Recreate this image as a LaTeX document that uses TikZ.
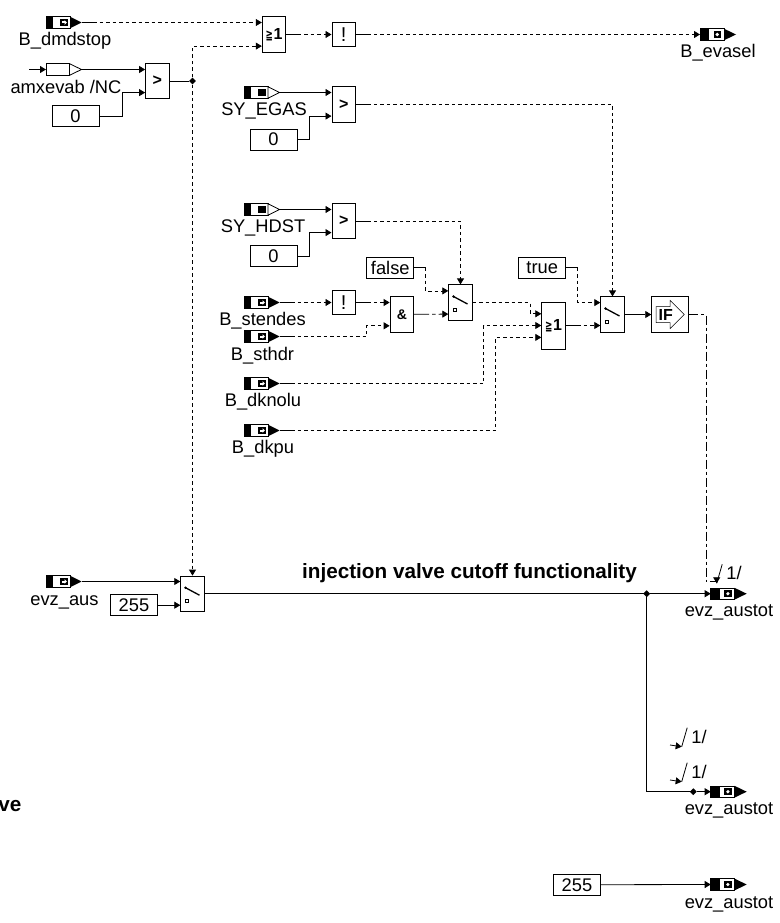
\documentclass[tikz,border=0pt]{standalone}
\usepackage{fontspec}
\setmainfont{Liberation Sans}
\newfontfamily\symfont{DejaVu Sans}
\usepackage{tikz}
\usetikzlibrary{shapes.geometric, arrows.meta}

% long dash run behind a solid stub at the start of a wire
\def\dashfour{on 3.5pt off 3pt on 3.5pt off 3pt on 3.5pt off 3pt on 3.5pt off 3pt}
\edef\dashbits{\dashfour\space\dashfour\space\dashfour\space\dashfour\space\dashfour}
\edef\dashbits{\dashbits\space\dashbits\space\dashbits\space\dashbits}
\newcommand{\orsign}{{\symfont\fontsize{11}{12}\selectfont\scalebox{0.8}[1.25]{≧}}\hspace{0.6pt}{\fontsize{16}{18}\selectfont\bfseries 1}}

\tikzstyle{sigarrow} = [line width=0.8pt, ->, >={Triangle[length=6pt,width=7pt]}]
\tikzstyle{sigline} = [line width=0.8pt]
\tikzstyle{mainwire} = [line width=1.4pt]
\tikzstyle{logicbox} = [rectangle, draw=black, line width=0.9pt, fill=white, minimum width=23.5pt, minimum height=35.3pt, inner sep=0pt, font=\fontsize{16}{18}\selectfont\bfseries]
\tikzstyle{constbox} = [rectangle, draw=black, line width=0.9pt, fill=white, minimum width=47pt, minimum height=21pt, inner sep=0pt, font=\fontsize{18.3}{20}\selectfont]
\tikzstyle{portlabel} = [inner sep=0pt, anchor=base, font=\fontsize{18.3}{20}\selectfont]
\tikzstyle{headline} = [inner sep=0pt, anchor=base, font=\fontsize{20.7}{23}\selectfont\bfseries]
\tikzstyle{joint} = [diamond, fill=black, inner sep=0pt, minimum size=7pt]
\tikzset{
  stubdash/.style/.expanded={dash pattern=on 15pt off 3pt \dashbits},
  plaindash/.style={dash pattern=on 3.5pt off 3pt},
  longdash/.style={dash pattern=on 9pt off 3pt on 3pt off 3pt},
  ifbox/.style={logicbox, minimum width=37pt, minimum height=36.3pt, path picture={
    \draw[line width=0.5pt] ([shift={(-14,-8)}]path picture bounding box.center) -- ++(14,0) -- ++(0,-6)
      -- ++(14,14) -- ++(-14,14) -- ++(0,-6) -- ++(-14,0) -- cycle;
  }},
  portoutline/.style={draw=black, line width=0.8pt, fill=white},
  busin/.pic={
    \draw[portoutline] (0,-5.8) rectangle (24,5.8);
    \fill (0,-5.8) rectangle (6.5,5.8);
    \fill (14,-3.5) rectangle (22,3.5);
    \fill[white] (16,-1) rectangle (18.5,1);
    \fill[white] (18.5,-2.3) -- (21,0) -- (18.5,2.3) -- cycle;
    \fill (24,-5.8) -- (35.5,0) -- (24,5.8) -- cycle;
    \coordinate (-out) at (35.5,0);
  },
  syin/.pic={
    \draw[portoutline] (0,-5.8) rectangle (24,5.8);
    \fill (0,-5.8) rectangle (6.5,5.8);
    \fill (14,-3.5) rectangle (22,3.5);
    \draw[portoutline] (24,-5.8) -- (35.5,0) -- (24,5.8) -- cycle;
    \coordinate (-out) at (35.5,0);
  },
  plainin/.pic={
    \draw[portoutline] (0,-5.8) rectangle (23.5,5.8);
    \draw[portoutline] (23.5,-5.8) -- (35.5,0) -- (23.5,5.8) -- cycle;
    \coordinate (-in) at (0,0);
    \coordinate (-out) at (35.5,0);
  },
  busout/.pic={
    \draw[portoutline] (0,-5.8) rectangle (24,5.8);
    \fill (0,-5.8) rectangle (9,5.8);
    \fill (13.5,-3.5) rectangle (21,3.5);
    \fill[white] (17.2,0) circle (1.8pt);
    \fill (24,-5.8) -- (36,0) -- (24,5.8) -- cycle;
    \coordinate (-in) at (0,0);
  },
  onetag/.pic={
    \draw[sigline] (0,0) -- (5.5,-19);
    \node (-txt) [portlabel, anchor=center] at (17.3,-10) {1/};
    \coordinate (-foot) at (0,0);
  },
}

\begin{document}
\begin{tikzpicture}[x=1pt, y=-1pt, node distance=69.7pt]
  \useasboundingbox (0,0) rectangle (779,923);

  % top row
  \pic (dmdstop) at (46,22.5) {busin};
  \node (dmdstoplbl) [portlabel] at (65,46) {B\_dmdstop};
  \pic (amxevab) at (46,69.5) {plainin};
  \coordinate (amxfree) at (29,69.5);
  \node (amxlbl) [portlabel] at (66,93.5) {amxevab /NC};
  \node (cmpa) [logicbox] at (157.3,81) {>};
  \node (zeroa) [constbox] at (75.5,116) {0};
  \node (jointa) [joint] at (192.5,81) {};
  \node (ortop) [logicbox] at (274,34.5) {\orsign};
  \node (nottop) [logicbox, minimum height=23.3pt, right of=ortop, font=\fontsize{20}{22}\selectfont] {!};
  \pic (evasel) at (700,34.5) {busout};
  \node (evasellbl) [portlabel] at (718,58) {B\_evasel};

  % SY_EGAS
  \pic (egas) at (244,92.5) {syin};
  \node (egaslbl) [portlabel] at (264,116) {SY\_EGAS};
  \node (cmpb) [logicbox] at (343.7,104.5) {>};
  \node (zerob) [constbox] at (273.5,139.6) {0};

  % SY_HDST
  \pic (hdst) at (244,209.5) {syin};
  \node (hdstlbl) [portlabel] at (263,232.7) {SY\_HDST};
  \node (cmpc) [logicbox] at (343.7,221) {>};
  \node (zeroc) [constbox] at (273.5,256) {0};

  % middle logic
  \node (falsebox) [constbox] at (390.3,267.5) {false};
  \pic (stendes) at (244,302.5) {busin};
  \node (stendeslbl) [portlabel] at (262.5,325) {B\_stendes};
  \node (notmid) [logicbox, minimum height=23.3pt, font=\fontsize{20}{22}\selectfont] at (343.7,302.5) {!};
  \pic (sthdr) at (244,336.5) {busin};
  \node (sthdrlbl) [portlabel] at (262.5,360) {B\_sthdr};
  \node (andbox) [logicbox, font=\fontsize{14}{16}\selectfont\bfseries] at (401.8,314.3) {\&};
  \node (swa) [logicbox] at (460.5,302.5) {};
  \pic (dknolu) at (244,383.5) {busin};
  \node (dknolulbl) [portlabel] at (263,406.7) {B\_dknolu};
  \pic (dkpu) at (244,430.5) {busin};
  \node (dkpulbl) [portlabel] at (263,453.5) {B\_dkpu};
  \node (ormid) [logicbox, minimum height=47pt] at (553.5,325.5) {\orsign};
  \node (truebox) [constbox] at (542.2,267.7) {true};
  \node (swb) [logicbox] at (612.5,314.5) {};
  \node (iffun) [ifbox] at (670.2,314.5) {IF\hspace*{9pt}};

  % main path
  \pic (evzaus) at (46,581.5) {busin};
  \node (evzauslbl) [portlabel] at (64.5,605) {evz\_aus};
  \node (maxbox) [constbox] at (134,605.2) {255};
  \node (swc) [logicbox] at (192.5,593.7) {};
  \node (title) [headline] at (469.5,578) {injection valve cutoff functionality};
  \node (jointb) [joint] at (646.7,593.7) {};
  \pic (austota) at (710.7,593.7) {busout};
  \node (austotalbl) [portlabel] at (729,616.7) {evz\_austot};
  \pic (taga) at (716.7,583.3) {onetag};

  % switch contacts
  \foreach \sw in {swa,swb,swc} {
    \fill ([xshift=-7pt,yshift=6pt]\sw.center) circle (1.4pt);
    \draw [line width=1.3pt] ([xshift=-7pt,yshift=6pt]\sw.center) -- ([xshift=7pt,yshift=-1.5pt]\sw.center);
    \draw [line width=0.7pt] ([xshift=-7pt,yshift=-5.5pt]\sw.center) rectangle ([xshift=-4pt,yshift=-8.5pt]\sw.center);
  }

  % lower outputs
  \pic (tagb) at (681.7,746.7) {onetag};
  \coordinate (tagbfree) at (670,745);
  \pic (tagc) at (681.7,781.7) {onetag};
  \coordinate (tagcfree) at (670,780);
  \node (jointc) [joint] at (693.3,791.7) {};
  \pic (austotb) at (710.7,791.7) {busout};
  \node (austotblbl) [portlabel] at (729,814.7) {evz\_austot};
  \node (cutoff) [headline, anchor=base east] at (21.7,811) {ve};
  \node (maxboxb) [constbox] at (577,884.7) {255};
  \pic (austotc) at (710.7,884.5) {busout};
  \node (austotclbl) [portlabel] at (729,908) {evz\_austot};

  % solid wires
  \draw [sigarrow] (amxfree) -- (amxevab-in);
  \draw [sigarrow] (amxevab-out) -- (cmpa.west |- amxevab-out);
  \draw [sigarrow] (zeroa.east) -- ++(23,0) |- ([yshift=-11.6pt]cmpa.west);
  \draw [sigline] (cmpa.east) -- (jointa);
  \draw [sigarrow] (egas-out) -- (cmpb.west |- egas-out);
  \draw [sigarrow] (zerob.east) -- ++(12,0) |- ([yshift=-11.6pt]cmpb.west);
  \draw [sigarrow] (hdst-out) -- (cmpc.west |- hdst-out);
  \draw [sigarrow] (zeroc.east) -- ++(12,0) |- ([yshift=-11.6pt]cmpc.west);
  \draw [sigarrow] (evzaus-out) -- (swc.west |- evzaus-out);
  \draw [sigarrow] (maxbox.east) -- (swc.west |- maxbox.east);
  \draw [sigarrow] (swb.east) -- (iffun.west);
  \draw [mainwire] (swc.east) -- (jointb.center);
  \draw [sigarrow] (jointb) -- (austota-in);
  \draw [mainwire] (jointb.center) |- (jointc.center);
  \draw [sigarrow] (jointc) -- (austotb-in);
  \draw [sigarrow] (maxboxb.east) -- (austotc-in);
  \draw [sigarrow] (tagbfree) -- (tagb-foot);
  \draw [sigarrow] (tagcfree) -- (tagc-foot);

  % dashed wires
  \draw [sigarrow, stubdash] (dmdstop-out) -- (ortop.west |- dmdstop-out);
  \draw [sigarrow, plaindash] (jointa) |- ([yshift=-11.6pt]ortop.west);
  \draw [sigarrow, plaindash] (jointa) -- (swc.north);
  \draw [sigarrow, stubdash] (ortop.east) -- (nottop.west);
  \draw [sigarrow, stubdash] (nottop.east) -- (evasel-in);
  \draw [sigarrow, stubdash] (cmpb.east) -| (swb.north);
  \draw [sigarrow, stubdash] (cmpc.east) -| (swa.north);
  \draw [sigarrow, stubdash] (falsebox.east) -- ++(11.5,0) |- ([yshift=11.6pt]swa.west);
  \draw [sigarrow, stubdash] (stendes-out) -- (notmid.west);
  \draw [sigarrow, stubdash] (notmid.east) -- (andbox.west |- notmid.east);
  \draw [sigarrow, stubdash] (sthdr-out) -- ++(87,0) |- ([yshift=-11.5pt]andbox.west);
  \draw [sigarrow, stubdash] (andbox.east) -- ([yshift=-11.6pt]swa.west);
  \draw [sigarrow, plaindash] (swa.east) -- ++(57.5,0) |- ([yshift=11.7pt]ormid.west);
  \draw [sigarrow, stubdash] (dknolu-out) -- ++(204,0) |- (ormid.west);
  \draw [sigarrow, stubdash] (dkpu-out) -- ++(216,0) |- ([yshift=-11.9pt]ormid.west);
  \draw [sigarrow, stubdash] (ormid.east) -- (swb.west |- ormid.east);
  \draw [sigarrow, stubdash] (truebox.east) -- ++(11.5,0) |- ([yshift=11.9pt]swb.west);
  \draw [sigarrow, longdash] (iffun.east) -- ++(16.8,0) |- ([yshift=1.5pt]taga-foot) -- (taga-foot);
\end{tikzpicture}
\end{document}
